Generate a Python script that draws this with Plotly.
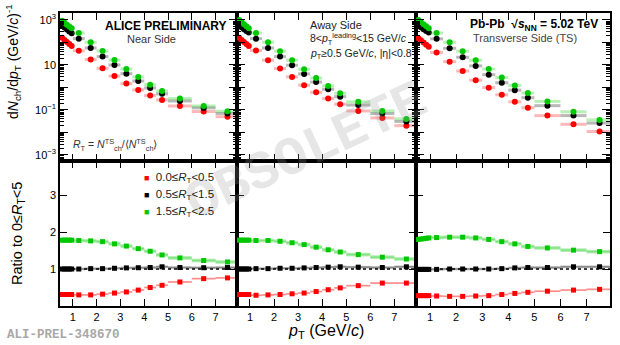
import plotly.graph_objects as go

# ---------------- data ----------------
bin_edges = [0.5, 0.6, 0.7, 0.8, 0.9, 1.0, 1.5, 2.0, 2.5, 3.0, 3.5, 4.0, 4.5, 5.0, 6.0, 7.0, 8.0]
pt = [(a + b) / 2 for a, b in zip(bin_edges[:-1], bin_edges[1:])]
pt_half = [(b - a) / 2 for a, b in zip(bin_edges[:-1], bin_edges[1:])]

series_names = ["0.0≤<i>R</i><sub>T</sub>&lt;0.5", "0.5≤<i>R</i><sub>T</sub>&lt;1.5", "1.5≤<i>R</i><sub>T</sub>&lt;2.5"]
series_colors = ["#ff0000", "#000000", "#00c800"]
series_light = ["rgba(255,0,0,0.28)", "rgba(0,0,0,0.28)", "rgba(0,200,0,0.28)"]
band_colors = ["rgba(255,120,120,0.45)", "rgba(120,120,120,0.5)", "rgba(0,200,0,0.3)"]

# spectra dN/dpT (GeV/c)^-1
near_low  = [163, 130, 105, 85, 69, 43, 17.4, 7.1, 3.2, 1.48, 0.78, 0.44, 0.28, 0.15, 0.085, 0.05]
near_mid  = [560, 460, 380, 310, 255, 148, 57, 23.5, 10, 4.1, 1.94, 0.95, 0.52, 0.25, 0.123, 0.07]
near_high = [930, 760, 620, 510, 427, 263, 102, 41.7, 16.6, 6.6, 2.95, 1.32, 0.69, 0.32, 0.15, 0.087]

away_low  = [163, 130, 105, 85, 69, 44, 16.3, 6.9, 2.95, 1.26, 0.61, 0.32, 0.18, 0.09, 0.044, 0.02]
away_mid  = [600, 480, 390, 320, 275, 148, 57, 23.5, 9.7, 4.0, 1.74, 0.83, 0.39, 0.165, 0.069, 0.031]
away_high = [1000, 810, 650, 530, 427, 263, 103, 41, 16.3, 6.4, 2.6, 1.17, 0.55, 0.23, 0.09, 0.04]

ts_low  = [155, 125, 100, 80, 65, 36, 14, 5.4, 2.1, 0.98, 0.47, 0.23, 0.126, 0.056, 0.023, 0.011]
ts_mid  = [600, 480, 390, 320, 275, 145, 55, 22, 9.1, 3.7, 1.62, 0.76, 0.35, 0.155, 0.056, 0.026]
ts_high = [1000, 800, 640, 520, 427, 263, 102, 41, 16.2, 6.6, 2.75, 1.23, 0.56, 0.24, 0.083, 0.036]

# ratios to 0<=RT<5
near_low_r  = [0.31, 0.31, 0.31, 0.31, 0.31, 0.30, 0.30, 0.32, 0.35, 0.38, 0.43, 0.50, 0.56, 0.65, 0.74, 0.76]
near_mid_r  = [1.00, 1.00, 1.00, 1.00, 1.00, 1.00, 1.01, 1.01, 1.02, 1.03, 1.035, 1.04, 1.06, 1.04, 1.035, 1.04]
near_high_r = [1.78, 1.78, 1.78, 1.78, 1.78, 1.77, 1.76, 1.74, 1.68, 1.62, 1.55, 1.48, 1.38, 1.30, 1.23, 1.19]

away_low_r  = [0.31, 0.31, 0.31, 0.31, 0.31, 0.29, 0.30, 0.31, 0.33, 0.35, 0.39, 0.44, 0.49, 0.55, 0.62, 0.62]
away_mid_r  = [1.00, 1.00, 1.00, 1.00, 1.00, 1.01, 1.01, 1.02, 1.02, 1.03, 1.04, 1.05, 1.06, 1.05, 1.04, 1.06]
away_high_r = [1.78, 1.78, 1.78, 1.78, 1.78, 1.77, 1.77, 1.75, 1.71, 1.66, 1.59, 1.52, 1.46, 1.39, 1.32, 1.27]

ts_low_r  = [0.28, 0.28, 0.28, 0.28, 0.28, 0.27, 0.26, 0.26, 0.27, 0.28, 0.31, 0.34, 0.37, 0.40, 0.43, 0.45]
ts_mid_r  = [0.99, 0.99, 0.99, 0.99, 0.99, 0.99, 1.00, 1.00, 1.00, 1.00, 1.01, 1.03, 1.04, 1.04, 1.06, 1.06]
ts_high_r = [1.80, 1.81, 1.82, 1.83, 1.84, 1.85, 1.86, 1.86, 1.84, 1.80, 1.74, 1.68, 1.61, 1.57, 1.51, 1.47]

# systematic band half-heights on the ratios
ratio_syst = [0.025, 0.035, 0.05]

spectra = [[near_low, near_mid, near_high], [away_low, away_mid, away_high], [ts_low, ts_mid, ts_high]]
ratios = [[near_low_r, near_mid_r, near_high_r], [away_low_r, away_mid_r, away_high_r], [ts_low_r, ts_mid_r, ts_high_r]]

x_ticks = [1, 2, 3, 4, 5, 6, 7]
log_major = [1e-3, 1e-2, 1e-1, 1, 10, 100, 1000]
log_major_text = ["10<sup>−3</sup>", "", "10<sup>−1</sup>", "", "10", "", "10<sup>3</sup>"]
log_minor = [m * d for d in [1e-4, 1e-3, 1e-2, 1e-1, 1, 10, 100, 1000] for m in range(2, 10)]
ratio_ticks = [1, 2, 3]
ratio_tick_text = ["1", "2", "3"]

# ---------------- figure ----------------
W, H = 620, 345
fig = go.Figure()

xdom = [[60 / W, 237 / W], [237 / W, 416 / W], [416 / W, 610 / W]]
ydom_top = [1 - 161 / H, 1 - 13 / H]
ydom_bot = [1 - 306 / H, 1 - 161 / H]

for p in range(3):
    xt = "x%d" % (p + 1) if p > 0 else "x"
    yt = "y%d" % (p + 1) if p > 0 else "y"
    xb = "x%d" % (p + 4)
    yb = "y%d" % (p + 4)
    for s in range(3):
        fig.add_trace(go.Scatter(
            x=pt, y=spectra[p][s], mode="markers", xaxis=xt, yaxis=yt,
            marker=dict(symbol="circle", size=6, color=series_colors[s]),
            error_x=dict(type="data", array=pt_half, color=series_light[s], thickness=3, width=0),
            showlegend=False, hoverinfo="skip"))
    for s in range(3):
        r = ratios[p][s]
        fig.add_trace(go.Bar(
            x=pt, y=[2 * ratio_syst[s]] * len(pt), base=[v - ratio_syst[s] for v in r],
            width=[2 * h for h in pt_half], xaxis=xb, yaxis=yb,
            marker=dict(color=band_colors[s], line=dict(width=0)),
            showlegend=False, hoverinfo="skip"))
    for s in range(3):
        fig.add_trace(go.Scatter(
            x=pt, y=ratios[p][s], mode="markers", xaxis=xb, yaxis=yb,
            marker=dict(symbol="square", size=5, color=series_colors[s]),
            error_x=dict(type="data", array=pt_half, color=series_light[s], thickness=1.5, width=0),
            showlegend=False, hoverinfo="skip"))
    fig.add_shape(type="line", xref="%s domain" % xb, yref=yb, x0=0, x1=1, y0=1, y1=1,
                  line=dict(color="black", width=1.5, dash="dot"))

axis_common = dict(showline=True, linecolor="black", linewidth=1.5, mirror="allticks",
                   ticks="inside", tickcolor="black", showgrid=False, zeroline=False,
                   tickfont=dict(family="Liberation Sans, Arial", size=11, color="black"))

layout = dict(width=W, height=H, margin=dict(l=0, r=0, t=0, b=0),
              paper_bgcolor="white", plot_bgcolor="rgba(0,0,0,0)",
              barmode="overlay", showlegend=False,
              font=dict(family="Liberation Sans, Arial", color="black"))

for p in range(3):
    sx = "" if p == 0 else str(p + 1)
    layout["xaxis" + sx] = dict(axis_common, domain=xdom[p], range=[0.46, 7.9], anchor="y" + sx,
                                tickvals=x_ticks, showticklabels=False, ticklen=7, tickwidth=1.3)
    layout["yaxis" + sx] = dict(axis_common, domain=ydom_top, type="log", range=[-3.27, 3.31],
                                anchor="x" + sx, tickvals=log_major, ticktext=log_major_text,
                                showticklabels=(p == 0), ticklen=8, tickwidth=1.3,
                                minor=dict(ticks="inside", tickvals=log_minor, ticklen=4,
                                           tickcolor="black", tickwidth=1))
    sb = str(p + 4)
    layout["xaxis" + sb] = dict(axis_common, domain=xdom[p], range=[0.46, 7.9], anchor="y" + sb,
                                tickvals=x_ticks, showticklabels=True, ticklen=7, tickwidth=1.3)
    layout["yaxis" + sb] = dict(axis_common, domain=ydom_bot, range=[0, 3.92], anchor="x" + sb,
                                tickmode="array", tickvals=ratio_ticks,
                                showticklabels=False, ticklen=7, tickwidth=1.3)

fig.update_layout(**layout)

F = "Liberation Sans, Arial"
ann = []
def A(text, x, y, size, xanchor="center", color="black", angle=0, family=F):
    ann.append(dict(text=text, x=x / W, y=1 - y / H, xref="paper", yref="paper",
                    xanchor=xanchor, yanchor="middle", showarrow=False, textangle=angle,
                    font=dict(family=family, size=size, color=color)))

# watermark first (drawn underneath the other annotations)
ann.append(dict(text="<b>OBSOLETE</b>", x=306 / W, y=1 - 152 / H, xref="paper", yref="paper",
                showarrow=False, textangle=-25, xanchor="center", yanchor="middle",
                font=dict(family="Liberation Mono, Courier New", size=54, color="rgba(150,150,150,0.24)")))

# ratio-axis tick labels, placed on the ratio axis scale
for v, t in zip(ratio_ticks, ratio_tick_text):
    ann.append(dict(text=t, x=58 / W, y=v, xref="paper", yref="y4", xanchor="right", yanchor="middle",
                    showarrow=False, font=dict(family=F, size=11, color="black")))

A("<b>ALICE PRELIMINARY</b>", 229, 26, 12, xanchor="right")
A("Near Side", 151, 39, 11, color="#333333")
A("<i>R</i><sub>T</sub> = <i>N</i><sup>TS</sup><sub>ch</sub>/⟨<i>N</i><sup>TS</sup><sub>ch</sub>⟩", 71, 145, 10.5, xanchor="left", color="#333333")
A("Away Side", 308, 25, 11, xanchor="left", color="#222222")
A("8&lt;<i>p</i><sub>T</sub><sup>leading</sup>&lt;15 GeV/<i>c</i>", 308, 39, 10.5, xanchor="left", color="#222222")
A("<i>p</i><sub>T</sub>≥0.5 GeV/<i>c</i>, |η|&lt;0.8", 308, 54, 10.5, xanchor="left", color="#222222")
A("<b>Pb-Pb  √<i>s</i><sub>NN</sub> = 5.02 TeV</b>", 600, 25, 12, xanchor="right")
A("Transverse Side (TS)", 525, 38, 11, color="#444444")
A("<b>ALI-PREL-348670</b>", 5, 335, 12.5, xanchor="left", color="#a8a8a8", family="Liberation Mono, Courier New")
A("d<i>N</i><sub>ch</sub>/d<i>p</i><sub>T</sub> (GeV/<i>c</i>)<sup>-1</sup>", 13, 62, 14, angle=-90)
A("Ratio to 0≤<i>R</i><sub>T</sub>&lt;5", 18, 234, 14.5, angle=-90)
A("<i>p</i><sub>T</sub> (GeV/<i>c</i>)", 326, 331, 16)

leg_y = [178, 195, 212]
for s in range(3):
    A("<span style='color:%s;font-size:9px'>■</span>  %s" % (series_colors[s], series_names[s]),
      142, leg_y[s], 11.5, xanchor="left", color="#222222")

fig.update_layout(annotations=ann)
fig.write_html("out.html")
